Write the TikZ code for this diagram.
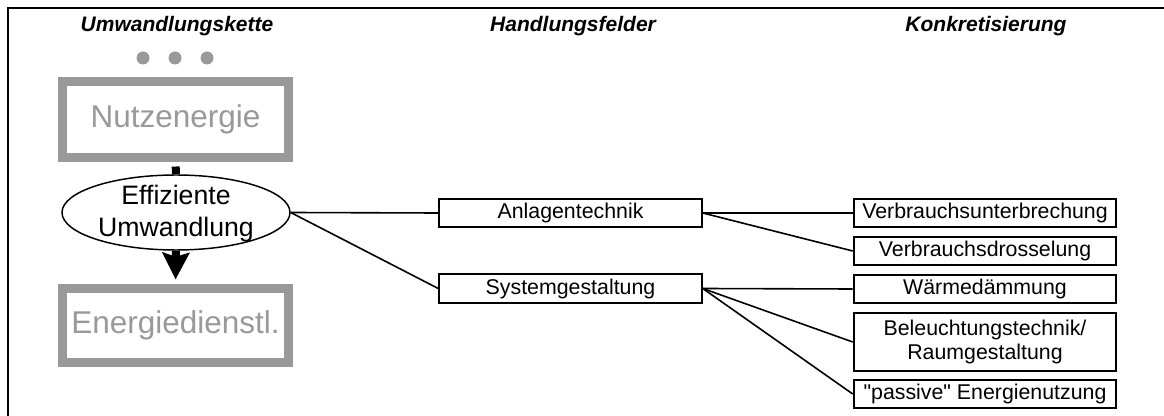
\documentclass[tikz,border=0pt]{standalone}
\usepackage{fontspec}
\setmainfont{Liberation Sans}
\newfontfamily\plainsans{Liberation Sans}
\usetikzlibrary{arrows.meta,shapes.geometric}
\definecolor{boxgray}{RGB}{153,153,153}
\begin{document}
\begin{tikzpicture}[x=0.75pt,y=-0.75pt,
  title/.style={font=\fontsize{15.75pt}{18pt}\selectfont\bfseries\itshape, anchor=base, inner sep=0},
  dot/.style={circle, fill=boxgray, minimum size=9.75pt, inner sep=0},
  graybox/.style={draw=boxgray, line width=6.75pt, text=boxgray, minimum width=169.5pt, minimum height=57pt, inner sep=0, font=\fontsize{23.6pt}{28pt}\selectfont},
  fbox/.style={draw, line width=1.4pt, minimum width=197pt, minimum height=21.5pt, inner sep=0, align=center, font=\fontsize{16pt}{18.5pt}\selectfont},
  conn/.style={line width=1.2pt},
  bar/.style={line width=6pt}
]
\useasboundingbox (0,0) rectangle (1164,416);
\fill[white] (0,0) rectangle (1164,416);
% frame (only top and left edges visible)
\draw[line width=1.8pt] (8,417) -- (8,8.3) -- (1165,8.3);

% titles
\node[title] (t1) at (177,32) {Umwandlungskette};
\node[title] (t2) at (573,32) {Handlungsfelder};
\node[title] (t3) at (986,32) {Konkretisierung};

% dots
\node[dot] (d1) at (143,58) {};
\node[dot] (d2) at (175,58) {};
\node[dot] (d3) at (207,58) {};

% chain
\node[graybox] (nutz) at (175.5,119.5) {Nutzenergie};
\node[graybox, minimum height=55.5pt] (edl) at (175.5,325.5) {Energiedienstl.};
\node[ellipse, draw, line width=1.1pt, minimum width=171pt, minimum height=56.25pt, inner sep=0] (eff) at (176,212.5) {};
\node[align=center, inner sep=0, font=\fontsize{20pt}{24pt}\selectfont] (efftxt) at (176,214) {Effiziente\\Umwandlung};
\draw[bar, shorten <=3.4pt] (nutz.south) -- (eff.north);
\draw[bar, shorten >=3.4pt, -{Stealth[length=20pt,width=20pt,inset=3pt]}] (eff.south) -- (edl.north);

% Handlungsfelder
\node[fbox] (anl) at (570.5,213) {Anlagentechnik};
\node[fbox] (sys) at (570.5,288.5) {Systemgestaltung};

% Konkretisierung
\node[fbox] (vu) at (985,213) {Verbrauchsunterbrechung};
\node[fbox] (vd) at (985,251) {Verbrauchsdrosselung};
\node[fbox] (wd) at (985,289) {Wärmedämmung};
\node[fbox, minimum height=44pt] (br) at (985,342) {Beleuchtungstechnik/\\Raumgestaltung};
\node[fbox] (pe) at (985,394) {\plainsans "passive" Energienutzung};

% connectors
\draw[conn] (eff.east) -- (anl.west);
\draw[conn] (eff.east) -- (sys.west);
\draw[conn] (anl.east) -- (vu.west);
\draw[conn] (anl.east) -- (vd.west);
\draw[conn] (sys.east) -- (wd.west);
\draw[conn] (sys.east) -- (br.west);
\draw[conn] (sys.east) -- (pe.west);
\end{tikzpicture}
\end{document}
